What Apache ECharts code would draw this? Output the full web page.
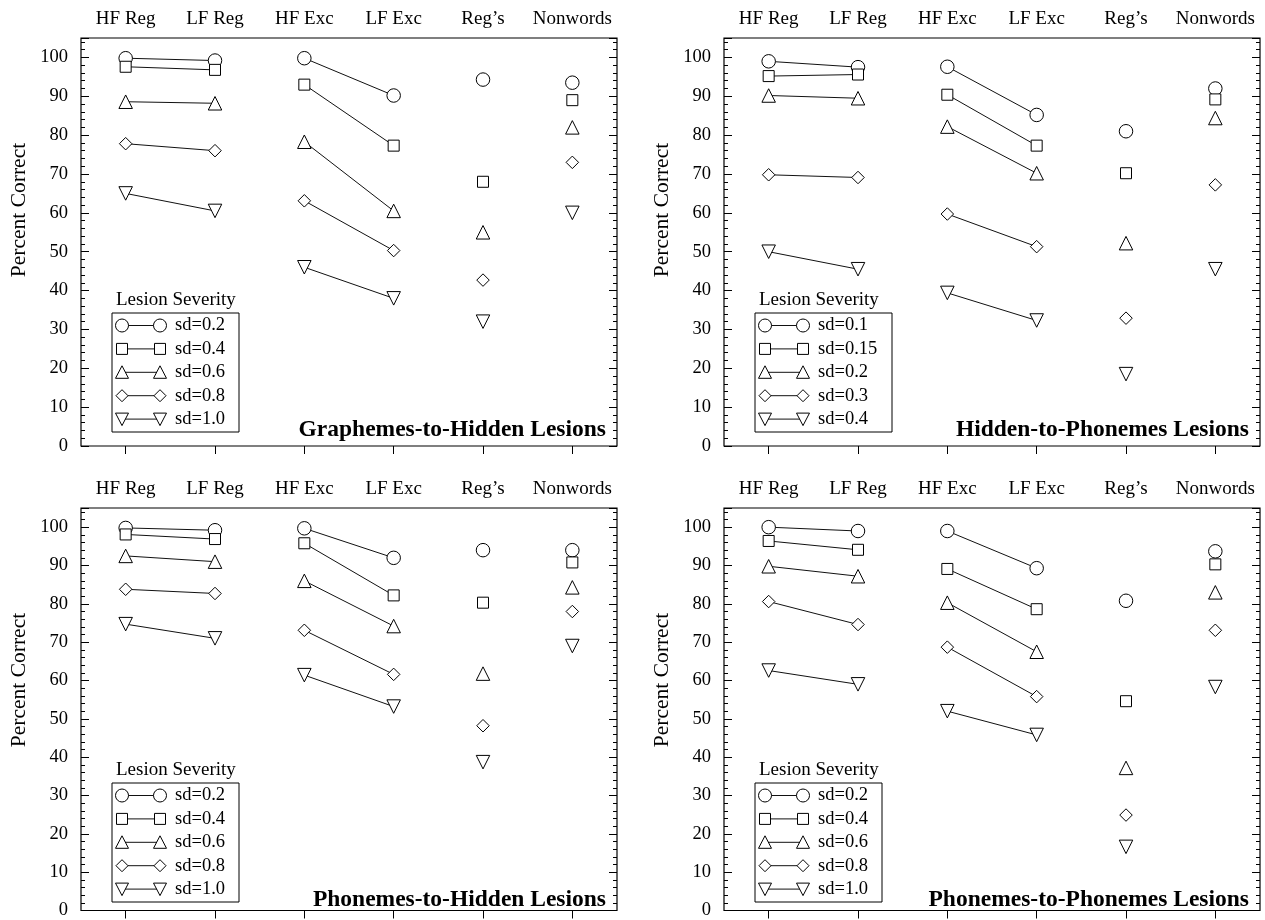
<!DOCTYPE html>
<html><head><meta charset="utf-8">
<script src="https://cdn.jsdelivr.net/npm/echarts@6/dist/echarts.min.js"></script>
<style>html,body{margin:0;padding:0;background:#fff}#c{width:1265px;height:920px}</style>
</head><body><div id="c"></div>
<script>
// ---------- DATA ----------
const categories = ['HF Reg', 'LF Reg', 'HF Exc', 'LF Exc', 'Reg\u2019s', 'Nonwords'];
const panelTitles = ['Graphemes-to-Hidden Lesions', 'Hidden-to-Phonemes Lesions', 'Phonemes-to-Hidden Lesions', 'Phonemes-to-Phonemes Lesions'];
const yAxisName = 'Percent Correct';
const legendTitle = 'Lesion Severity';
const sdLabelsG2H = ['sd=0.2', 'sd=0.4', 'sd=0.6', 'sd=0.8', 'sd=1.0'];
const sdLabelsH2P = ['sd=0.1', 'sd=0.15', 'sd=0.2', 'sd=0.3', 'sd=0.4'];
const sdLabelsP2H = ['sd=0.2', 'sd=0.4', 'sd=0.6', 'sd=0.8', 'sd=1.0'];
const sdLabelsP2P = ['sd=0.2', 'sd=0.4', 'sd=0.6', 'sd=0.8', 'sd=1.0'];

// Graphemes-to-Hidden Lesions
const g2hLevel1 = [99.8, 99.2, 99.8, 90.2, 94.3, 93.5];
const g2hLevel2 = [97.6, 96.8, 93.0, 77.3, 68.0, 89.0];
const g2hLevel3 = [88.6, 88.2, 78.3, 60.5, 55.0, 82.0];
const g2hLevel4 = [77.8, 76.0, 63.1, 50.3, 42.7, 73.0];
const g2hLevel5 = [65.0, 60.5, 46.0, 38.0, 32.0, 60.0];
// Hidden-to-Phonemes Lesions
const h2pLevel1 = [99.0, 97.5, 97.6, 85.2, 81.0, 92.0];
const h2pLevel2 = [95.2, 95.6, 90.4, 77.3, 70.2, 89.2];
const h2pLevel3 = [90.2, 89.5, 82.2, 70.2, 52.2, 84.4];
const h2pLevel4 = [69.8, 69.1, 59.7, 51.3, 32.9, 67.2];
const h2pLevel5 = [50.0, 45.5, 39.4, 32.3, 18.5, 45.5];
// Phonemes-to-Hidden Lesions
const p2hLevel1 = [99.8, 99.2, 99.7, 92.0, 94.0, 94.0];
const p2hLevel2 = [98.1, 96.9, 95.8, 82.2, 80.3, 90.8];
const p2hLevel3 = [92.5, 91.0, 86.0, 74.2, 61.8, 84.3];
const p2hLevel4 = [83.8, 82.7, 73.1, 61.6, 48.2, 78.0];
const p2hLevel5 = [74.7, 71.0, 61.4, 53.2, 38.7, 69.0];
// Phonemes-to-Phonemes Lesions
const p2pLevel1 = [100.0, 99.0, 99.0, 89.3, 80.8, 93.7];
const p2pLevel2 = [96.4, 94.1, 89.1, 78.6, 54.6, 90.3];
const p2pLevel3 = [89.8, 87.2, 80.3, 67.5, 37.2, 83.0];
const p2pLevel4 = [80.6, 74.6, 68.7, 55.8, 24.9, 73.1];
const p2pLevel5 = [62.6, 59.0, 52.0, 45.8, 16.6, 58.3];

// ---------- LAYOUT / STYLE ----------
const panels = [
  { levels: [g2hLevel1, g2hLevel2, g2hLevel3, g2hLevel4, g2hLevel5], labels: sdLabelsG2H },
  { levels: [h2pLevel1, h2pLevel2, h2pLevel3, h2pLevel4, h2pLevel5], labels: sdLabelsH2P },
  { levels: [p2hLevel1, p2hLevel2, p2hLevel3, p2hLevel4, p2hLevel5], labels: sdLabelsP2H },
  { levels: [p2pLevel1, p2pLevel2, p2pLevel3, p2pLevel4, p2pLevel5], labels: sdLabelsP2P }
];
const gridPos = [{ left: 81, top: 38 }, { left: 724, top: 38 }, { left: 81, top: 508 }, { left: 724, top: 508 }];
const GW = 536, GH = 408;
const legendBoxW = [127, 137, 127, 127];
const FONT = 'Liberation Serif';
const symbols = [
  { symbol: 'circle', size: 13.5, rotate: 0 },
  { symbol: 'rect', size: 11, rotate: 0 },
  { symbol: 'triangle', size: 13.5, rotate: 0 },
  { symbol: 'diamond', size: 12.5, rotate: 0 },
  { symbol: 'triangle', size: 13.5, rotate: 180 }
];

const grid = [], xAxis = [], yAxis = [], series = [], graphic = [];

panels.forEach((p, pi) => {
  const g = gridPos[pi];
  grid.push({ left: g.left, top: g.top, width: GW, height: GH, show: true,
    borderColor: '#000', borderWidth: 1.2, backgroundColor: 'transparent', containLabel: false });
  xAxis.push({ type: 'category', gridIndex: pi, position: 'top', data: categories, boundaryGap: true,
    axisLine: { show: false },
    axisTick: { show: true, inside: true, alignWithLabel: true, length: 8, lineStyle: { color: '#000', width: 1 } },
    axisLabel: { show: true, margin: 9, fontFamily: FONT, fontSize: 19, color: '#000', interval: 0 },
    splitLine: { show: false } });
  const yBase = { type: 'value', gridIndex: pi, min: 0, max: 105, splitLine: { show: false }, axisLine: { show: false } };
  yAxis.push(Object.assign({}, yBase, { position: 'left', interval: 10,
    axisTick: { show: true, inside: true, length: 8, lineStyle: { color: '#000', width: 1 } },
    axisLabel: { show: true, margin: 13, fontFamily: FONT, fontSize: 18.5, color: '#000',
      formatter: v => (v > 100 ? '' : String(v)) } }));
  yAxis.push(Object.assign({}, yBase, { position: 'left', interval: 2,
    axisTick: { show: true, inside: true, length: 4, lineStyle: { color: '#000', width: 1 } },
    axisLabel: { show: false } }));
  yAxis.push(Object.assign({}, yBase, { position: 'right', interval: 10,
    axisTick: { show: true, inside: true, length: 8, lineStyle: { color: '#000', width: 1 } },
    axisLabel: { show: false } }));
  yAxis.push(Object.assign({}, yBase, { position: 'right', interval: 2,
    axisTick: { show: true, inside: true, length: 4, lineStyle: { color: '#000', width: 1 } },
    axisLabel: { show: false } }));

  p.levels.forEach((arr, li) => {
    const s = symbols[li];
    const common = { xAxisIndex: pi, yAxisIndex: pi * 4, symbol: s.symbol, symbolSize: s.size,
      symbolRotate: s.rotate, itemStyle: { color: '#fff', borderColor: '#000', borderWidth: 1, opacity: 1 },
      animation: false, silent: true, z: 3 };
    series.push(Object.assign({}, common, { type: 'line', name: p.labels[li] + ' reg',
      data: arr.map((v, i) => (i < 2 ? v : '-')), showSymbol: true,
      lineStyle: { color: '#111', width: 1 } }));
    series.push(Object.assign({}, common, { type: 'line', name: p.labels[li] + ' exc',
      data: arr.map((v, i) => (i === 2 || i === 3 ? v : '-')), showSymbol: true,
      lineStyle: { color: '#111', width: 1 } }));
    series.push(Object.assign({}, common, { type: 'scatter', name: p.labels[li] + ' other',
      data: arr.map((v, i) => (i >= 4 ? v : '-')) }));
  });

  // Y axis name
  graphic.push({ type: 'text', x: g.left - 62, y: g.top + 172, rotation: Math.PI / 2,
    style: { text: yAxisName, fontFamily: FONT, fontSize: 21.5, fill: '#000', align: 'center', verticalAlign: 'middle' } });
  // Panel title
  graphic.push({ type: 'text', x: g.left + GW - 11, y: g.top + GH - 16,
    style: { text: panelTitles[pi], fontFamily: FONT, fontSize: 23.5, fontWeight: 'bold', fill: '#000', align: 'right', verticalAlign: 'middle' } });
  // Legend
  const bx = g.left + 31, by = g.top + 275, bw = legendBoxW[pi], bh = 119;
  graphic.push({ type: 'text', x: bx + 4, y: by - 13,
    style: { text: legendTitle, fontFamily: FONT, fontSize: 19, fill: '#000', align: 'left', verticalAlign: 'middle' } });
  graphic.push({ type: 'rect', shape: { x: bx, y: by, width: bw, height: bh },
    style: { fill: '#fff', stroke: '#000', lineWidth: 1 } });
  p.labels.forEach((lab, li) => {
    const cy = by + 12.5 + 23.4 * li;
    const x1 = bx + 10, x2 = bx + 48;
    graphic.push({ type: 'line', shape: { x1: x1, y1: cy, x2: x2, y2: cy }, style: { stroke: '#111', lineWidth: 1 } });
    [x1, x2].forEach(cx => graphic.push(legendSymbol(li, cx, cy)));
    graphic.push({ type: 'text', x: bx + 63, y: cy,
      style: { text: lab, fontFamily: FONT, fontSize: 18.5, fill: '#000', align: 'left', verticalAlign: 'middle' } });
  });
});

function legendSymbol(k, cx, cy) {
  const st = { fill: '#fff', stroke: '#000', lineWidth: 1 };
  if (k === 0) return { type: 'circle', shape: { cx: cx, cy: cy, r: 6.5 }, style: st };
  if (k === 1) return { type: 'rect', shape: { x: cx - 5.5, y: cy - 5.5, width: 11, height: 11 }, style: st };
  if (k === 2) return { type: 'polygon', shape: { points: [[cx, cy - 6.5], [cx + 6.5, cy + 6], [cx - 6.5, cy + 6]] }, style: st };
  if (k === 3) return { type: 'polygon', shape: { points: [[cx, cy - 6], [cx + 6, cy], [cx, cy + 6], [cx - 6, cy]] }, style: st };
  return { type: 'polygon', shape: { points: [[cx - 6.5, cy - 6], [cx + 6.5, cy - 6], [cx, cy + 6.5]] }, style: st };
}

const chart = echarts.init(document.getElementById('c'), null, { renderer: 'canvas' });
chart.setOption({ backgroundColor: '#fff', animation: false, grid, xAxis, yAxis, series, graphic });
</script>
</body></html>
